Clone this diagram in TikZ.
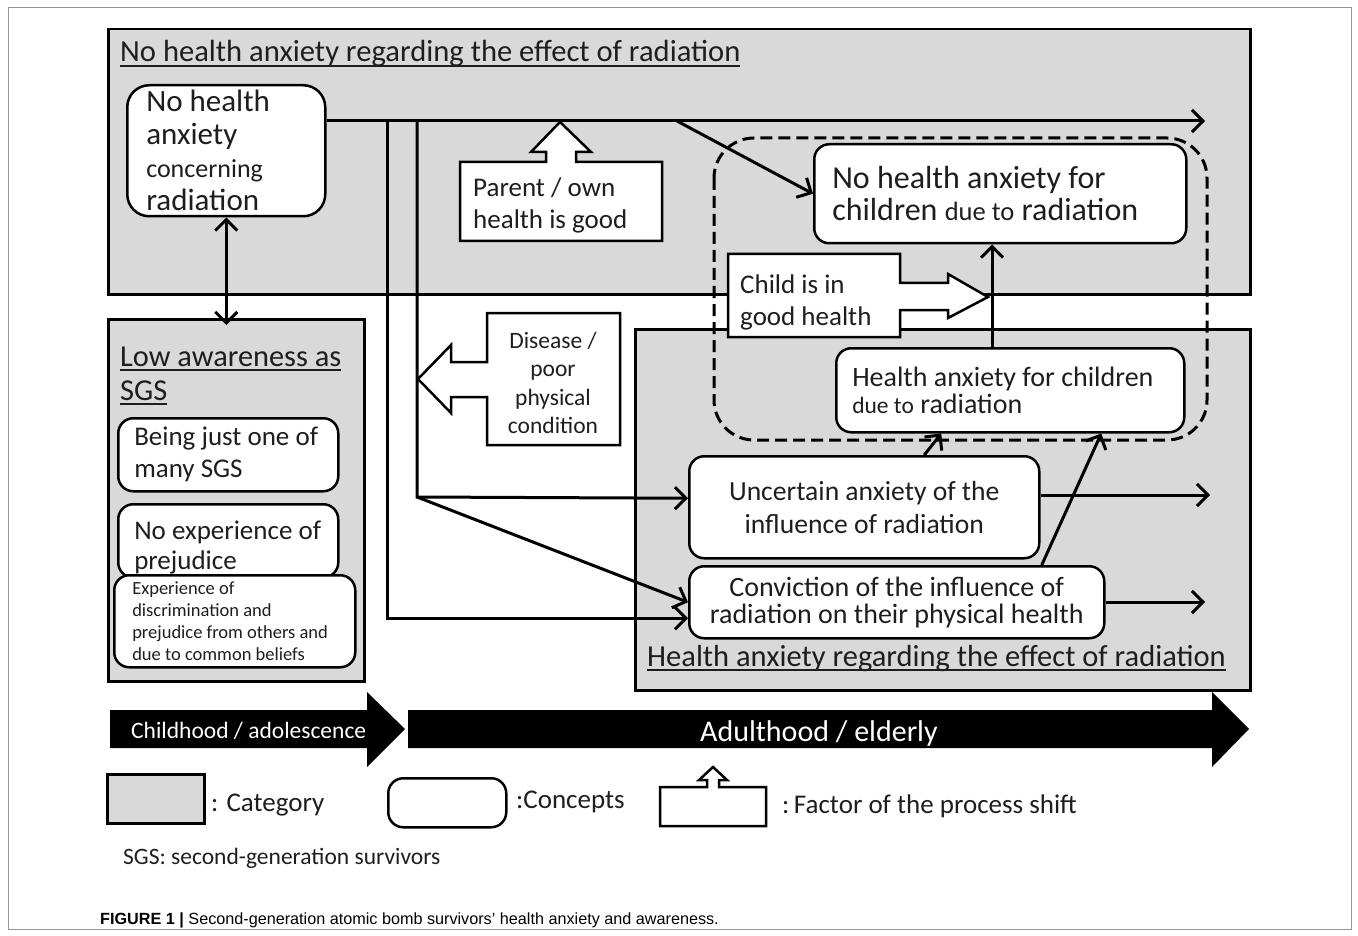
\documentclass[tikz,border=0pt]{standalone}
\usepackage{fontspec}
\setmainfont{Carlito}
\newfontfamily\capfont{Liberation Sans}
\usetikzlibrary{arrows.meta}
\definecolor{catgray}{RGB}{217,217,217}
\definecolor{ink}{RGB}{30,30,30}
\definecolor{framegray}{RGB}{150,150,150}
\newcommand{\fs}[2]{\fontsize{#1}{#2}\selectfont}
\newsavebox{\ulbox}
\newcommand{\catul}[1]{\sbox{\ulbox}{#1}\rlap{\rule[-5pt]{\wd\ulbox}{1.8pt}}\usebox{\ulbox}}
\tikzset{
  cat/.style={draw,line width=2.5pt,fill=catgray,inner sep=0pt,anchor=north west},
  concept/.style={draw,line width=2.5pt,fill=white,rounded corners=15pt,text=ink,anchor=north west},
  factor/.style={draw,line width=2.5pt,fill=white,line join=miter},
  link/.style={line width=3pt,->},
  txt/.style={inner sep=0pt,text=ink},
  dashbox/.style={line width=3pt,dash pattern=on 12pt off 6pt,rounded corners=40pt},
  >={Straight Barb[length=11pt,width=22pt]}
}
\begin{document}
\begin{tikzpicture}[x=1pt,y=-1pt]
\useasboundingbox (0,0) rectangle (1358,936);
%outer frame
\draw[framegray,line width=1pt] (8,8) rectangle (1351,929);
%categories
\node[cat,minimum width=1142pt,minimum height=265pt] (topcat) at (107,28) {};
\node[cat,minimum width=256pt,minimum height=362pt] (lowcat) at (107,318) {};
\node[cat,minimum width=615pt,minimum height=361pt] (anxcat) at (634,328) {};
\node[txt,anchor=base west,font=\fs{30.6}{34}] (toptitle) at (120,62) {\catul{No health anxiety regarding the effect of radiation}};
\node[txt,anchor=base west,font=\fs{30.4}{34}] (lowtitle1) at (120,366) {\catul{Low awareness as}};
\node[txt,anchor=base west,font=\fs{30.4}{34}] (lowtitle2) at (120,400) {\catul{SGS}};
\node[txt,anchor=base west,font=\fs{30.5}{34}] (anxtitle) at (647,666) {\catul{Health anxiety regarding the effect of radiation}};
%junctions on the main line
\coordinate (mainend) at (1205,121);
\coordinate (jA) at (387,121);
\coordinate (jB) at (417,121);
\coordinate (jC) at (677,121);
\coordinate (jD) at (417,497);
\coordinate (jE) at (992,297);
\coordinate (uncend) at (1210,495);
\coordinate (convend) at (1205,602);
%concepts
\node[concept,minimum width=198pt,minimum height=131pt,inner xsep=19pt,text width=160pt,align=flush left,rounded corners=22pt,font=\fs{31}{33}] (noanx) at (126,84)
  {No health\\anxiety\\{\fs{26}{33}concerning}\\radiation};
\node[concept,minimum width=372pt,minimum height=99pt,inner xsep=18pt,text width=336pt,align=flush left,font=\fs{32}{32}] (nochild) at (813,143)
  {No health anxiety for\\children {\fs{26.5}{32}due to} radiation};
\node[concept,minimum width=348pt,minimum height=84pt,inner xsep=16pt,text width=316pt,align=flush left,font=\fs{28}{27}] (hac) at (835,347)
  {Health anxiety for children\\{\fs{23.5}{27}due to} radiation};
\node[concept,minimum width=350pt,minimum height=102pt,align=flush center,font=\fs{27.6}{33}] (unc) at (688,455)
  {Uncertain anxiety of the\\influence of radiation};
\node[concept,minimum width=415pt,minimum height=72pt,align=flush center,font=\fs{28}{27}] (conv) at (688,565)
  {Conviction of the influence of\\radiation on their physical health};
\node[concept,minimum width=220pt,minimum height=73pt,inner xsep=16pt,text width=188pt,align=flush left,font=\fs{27}{32}] (onesgs) at (117,417)
  {Being just one of\\many SGS};
\node[concept,minimum width=220pt,minimum height=62pt,inner xsep=16pt,text width=188pt,align=flush left,font=\fs{27}{30}] (noprej) at (117,503)
  {\rule{0pt}{32pt}No experience of\\prejudice};
\node[concept,minimum width=241pt,minimum height=92pt,inner xsep=18pt,text width=205pt,align=flush left,font=\fs{18.5}{21.7}] (discr) at (113,574)
  {Experience of\\discrimination and\\prejudice from others and\\due to common beliefs};
%connectors
\draw[link] (noanx.east |- mainend) -- (mainend);
\draw[link] (jA) |- ([yshift=-16pt]conv.west);
\draw[link] (jB) -- (jD) -- ([yshift=9pt]unc.west);
\draw[link] (jD) -- (conv.west);
\draw[link] (jC) -- (nochild.west);
\draw[link,<->] (noanx.south) -- ([yshift=-7pt]noanx.south |- lowcat.north);
\draw[link] (unc.east |- uncend) -- (uncend);
\draw[link] (conv.east |- convend) -- (convend);
\draw[link] ([xshift=60pt]unc.north) -- ([xshift=-69pt]hac.south);
\draw[link] ([xshift=145pt]conv.north) -- ([xshift=91pt]hac.south);
\draw[link] (jE |- hac.north) -- (jE |- nochild.south);
%factors of the process shift
\draw[factor] (460,241) -- (460,162) -- (546,162) -- (546,152) -- (531,152) -- (560,122) -- (591,152) -- (576,152) -- (576,162) -- (662,162) -- (662,241) -- cycle;
\node[txt,anchor=west,align=flush left,font=\fs{27}{32}] (parent) at (473,205) {Parent / own\\health is good};
\draw[factor] (728,254) -- (900,254) -- (900,283) -- (948,283) -- (948,274) -- (988,297) -- (948,318) -- (948,310) -- (900,310) -- (900,337) -- (728,337) -- cycle;
\node[txt,anchor=west,align=flush left,font=\fs{27}{32}] (childok) at (740,302) {Child is in\\good health};
\draw[factor] (620,313) -- (487,313) -- (487,362) -- (451,362) -- (451,345) -- (418,379) -- (451,413) -- (451,397) -- (487,397) -- (487,445) -- (620,445) -- cycle;
\node[txt,align=flush center,font=\fs{23.5}{28.3}] (disease) at (553,383) {Disease /\\poor\\physical\\condition};
%dashed group
\draw[dashbox] (714,138) rectangle (1207,440);
%time line
\fill[black] (110,710) -- (367,710) -- (367,692) -- (405,729) -- (367,767) -- (367,748) -- (110,748) -- cycle;
\fill[black] (408,710) -- (1212,710) -- (1212,692) -- (1249,729) -- (1212,767) -- (1212,748) -- (408,748) -- cycle;
\node[txt,text=white,anchor=base west,font=\fs{23.5}{28}] (youth) at (131,738) {Childhood / adolescence};
\node[txt,text=white,anchor=base west,font=\fs{30}{34}] (adult) at (700,741) {Adulthood / elderly};
%legend
\node[cat,minimum width=97pt,minimum height=49pt] (legcat) at (106,773) {};
\node[txt,anchor=base west,font=\fs{27}{30}] (legcattxt) at (211,811) {: Category};
\node[concept,minimum width=118pt,minimum height=49pt] (legcon) at (387,777) {};
\node[txt,anchor=base west,font=\fs{27}{30}] (legcontxt) at (516,808) {:Concepts};
\draw[factor] (660,826) -- (660,787) -- (707,787) -- (707,780) -- (699,780) -- (713,767) -- (727,780) -- (719,780) -- (719,787) -- (766,787) -- (766,826) -- cycle;
\node[txt,anchor=base west,font=\fs{27}{30}] (legfactxt) at (782,813) {:\,Factor of the process shift};
\node[txt,anchor=base west,font=\fs{23.5}{28}] (sgsnote) at (123,864) {SGS: second-generation survivors};
%caption
\node[txt,anchor=base west,text=black,font=\capfont\fs{16.2}{18}] (caption) at (100,924) {\textbf{FIGURE 1 |} Second-generation atomic bomb survivors’ health anxiety and awareness.};
\end{tikzpicture}
\end{document}
